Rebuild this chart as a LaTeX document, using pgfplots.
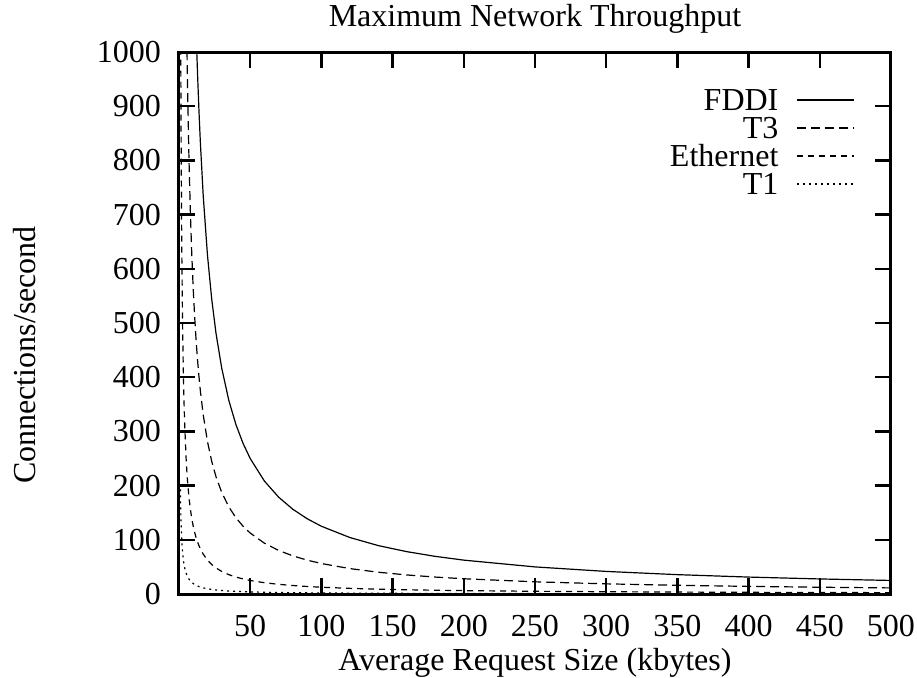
\documentclass[border=0pt]{standalone}
\usepackage{fontspec}
\setmainfont{Liberation Serif}
\usepackage{pgfplots}
\usepackage{pgfplotstable}
\pgfplotsset{compat=1.18}

% Connections per second a link can carry for a given average request size (kbytes)
\pgfplotstableread{
x     fddi    t3      eth     t1
1     12500   5625    1250    193
1.1   11364   5114    1136    175.5
1.2   10417   4688    1042    160.8
1.25  10000   4500    1000    154.4
1.3   9615    4327    961.5   148.5
1.4   8929    4018    892.9   137.9
1.5   8333    3750    833.3   128.7
1.75  7143    3214    714.3   110.3
2     6250    2812.5  625     96.5
2.5   5000    2250    500     77.2
3     4167    1875    416.7   64.3
3.5   3571    1607    357.1   55.1
4     3125    1406    312.5   48.25
5     2500    1125    250     38.6
5.5   2273    1023    227.3   35.1
6     2083    937.5   208.3   32.2
7     1786    803.6   178.6   27.6
8     1562.5  703.1   156.25  24.1
9     1389    625     138.9   21.4
10    1250    562.5   125     19.3
11    1136    511.4   113.6   17.5
12    1041.7  468.75  104.2   16.1
12.5  1000    450     100     15.44
13    961.5   432.7   96.15   14.85
14    892.9   401.8   89.29   13.79
15    833.3   375     83.33   12.87
17    735.3   330.9   73.53   11.35
20    625     281.25  62.5    9.65
23    543.5   244.6   54.35   8.39
26    480.8   216.3   48.08   7.42
30    416.7   187.5   41.67   6.43
35    357.1   160.7   35.71   5.51
40    312.5   140.6   31.25   4.83
45    277.8   125     27.78   4.29
50    250     112.5   25      3.86
60    208.3   93.75   20.83   3.22
70    178.6   80.36   17.86   2.76
80    156.25  70.31   15.63   2.41
90    138.9   62.5    13.89   2.14
100   125     56.25   12.5    1.93
120   104.2   46.88   10.42   1.61
140   89.29   40.18   8.93    1.38
160   78.13   35.16   7.81    1.21
180   69.44   31.25   6.94    1.07
200   62.5    28.13   6.25    0.97
250   50      22.5    5       0.77
300   41.67   18.75   4.17    0.64
350   35.71   16.07   3.57    0.55
400   31.25   14.06   3.13    0.48
450   27.78   12.5    2.78    0.43
500   25      11.25   2.5     0.39
}\throughput

\begin{document}
\begin{tikzpicture}
\begin{axis}[
  at={(0,0)}, anchor=south west,
  scale only axis,
  width=356pt, height=271pt,
  xmin=0, xmax=500, ymin=0, ymax=1000,
  xtick={50,100,...,500},
  ytick={0,100,...,1000},
  tick align=inside,
  major tick length=8pt,
  every tick/.style={black, line width=1.2pt},
  axis line style={line width=1.5pt},
  font=\fontsize{16}{18}\selectfont,
  /pgf/number format/assume math mode=true,
  /pgf/number format/1000 sep={},
  ticklabel style={font=\fontsize{16}{18}\selectfont},
  xticklabel style={yshift=-7pt},
  yticklabel style={xshift=-5.5pt},
  title={Maximum Network Throughput},
  title style={at={(axis description cs:0.5,1.0387)}, anchor=center,
    font=\fontsize{16}{18}\selectfont},
  xlabel={Average Request Size (kbytes)},
  xlabel style={at={(axis description cs:0.5,-0.127)}, anchor=center},
  ylabel={Connections/second},
  ylabel style={at={(axis description cs:-0.2163,0.441)}, anchor=center},
  legend plot pos=right,
  legend cell align=right,
  legend image code/.code={\draw[#1] (0pt,0pt) -- (28.5pt,0pt);},
  legend style={draw=none, fill=none, inner sep=0pt,
    at={(rel axis cs:1,1)}, anchor=north east, xshift=-18pt, yshift=-18pt,
    font=\fontsize{16}{16}\selectfont,
    column sep=8pt, row sep=2.5pt,
    nodes={inner xsep=1pt, inner ysep=0pt, text height=11pt, text depth=0.5pt}},
  every axis plot/.append style={black, line width=0.6pt},
]
\addplot[solid] table[x=x, y=fddi] {\throughput};
\addlegendentry{FDDI}
\addplot[dash pattern=on 4.5pt off 2.5pt] table[x=x, y=t3] {\throughput};
\addlegendentry{T3}
\addplot[dash pattern=on 3pt off 2.5pt] table[x=x, y=eth] {\throughput};
\addlegendentry{Ethernet}
\addplot[dash pattern=on 1pt off 2pt] table[x=x, y=t1] {\throughput};
\addlegendentry{T1}
\end{axis}
\pgfresetboundingbox
\path (-89.5pt,-41.5pt) rectangle (369pt,297pt);
\end{tikzpicture}
\end{document}
